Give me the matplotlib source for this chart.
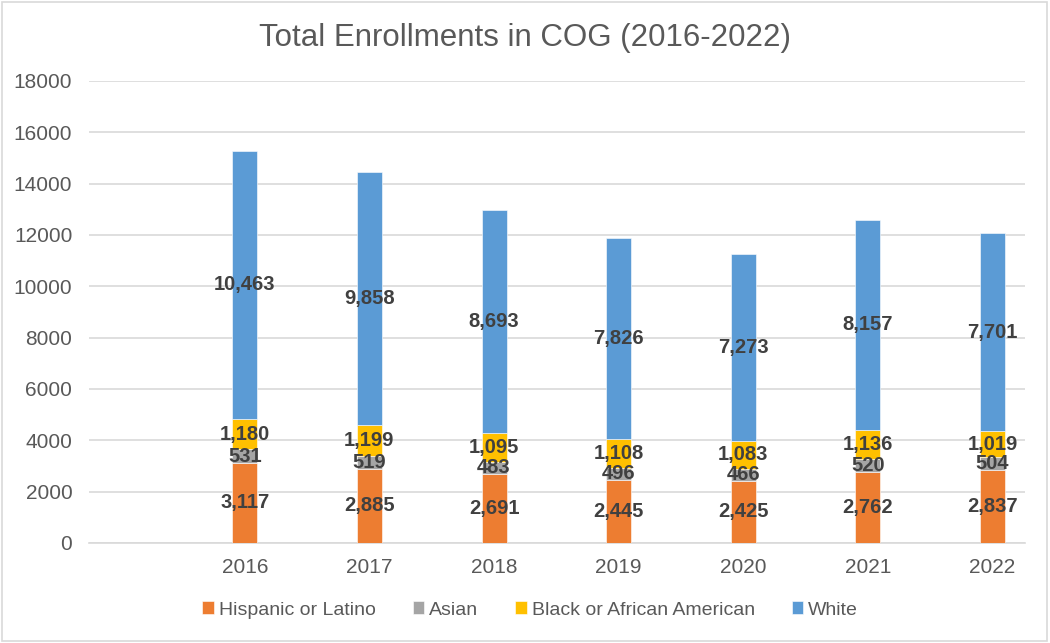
import matplotlib
matplotlib.use("Agg")
import matplotlib.pyplot as plt
from matplotlib.patches import Rectangle
import numpy as np

plt.rcParams["font.family"] = ["Liberation Sans", "DejaVu Sans"]

years = ["2016", "2017", "2018", "2019", "2020", "2021", "2022"]
hispanic = [3117, 2885, 2691, 2445, 2425, 2762, 2837]
asian = [531, 519, 483, 496, 466, 520, 504]
black = [1180, 1199, 1095, 1108, 1083, 1136, 1019]
white = [10463, 9858, 8693, 7826, 7273, 8157, 7701]

series = [
    ("Hispanic or Latino", hispanic, "#ED7D31"),
    ("Asian", asian, "#A5A5A5"),
    ("Black or African American", black, "#FFC000"),
    ("White", white, "#5B9BD5"),
]

fig = plt.figure(figsize=(10.5, 6.43), dpi=100)
ax = fig.add_axes([89 / 1050, 1 - 543 / 643, (1025 - 89) / 1050, (543 - 81) / 643])

x = np.arange(len(years))
bottom = np.zeros(len(years))
for name, vals, color in series:
    bars = ax.bar(x, vals, width=0.2, bottom=bottom, color=color, label=name,
                  edgecolor="white", linewidth=0.4, zorder=3)
    ax.bar_label(bars, labels=[f"{v:,}" for v in vals], label_type="center",
                 fontsize=14.5, fontweight="bold", color="#404040", zorder=4)
    bottom += np.array(vals)

ax.set_xlim(-1.25, 6.26)
ax.set_ylim(0, 18000)
ax.set_yticks(range(0, 18001, 2000))
ax.set_xticks(x)
ax.set_xticklabels(years)
ax.tick_params(axis="both", length=0, labelsize=15, colors="#595959")
ax.tick_params(axis="x", pad=11)
ax.tick_params(axis="y", pad=12)
ax.grid(axis="y", color="#D9D9D9", linewidth=1.2, zorder=0)
for side in ["top", "right", "left"]:
    ax.spines[side].set_visible(False)
ax.spines["bottom"].set_color("#D9D9D9")
ax.spines["bottom"].set_linewidth(1.2)

fig.text(0.5, 1 - 38 / 643, "Total Enrollments in COG (2016-2022)", ha="center", va="center",
         fontsize=22.5, color="#595959")

fig.legend(loc="center", bbox_to_anchor=(0.505, 1 - 610 / 643), ncol=4, frameon=False,
           fontsize=14, handlelength=0.6, handleheight=0.6, handletextpad=0.25,
           columnspacing=1.9, labelcolor="#595959")

fig.patches.append(Rectangle((0.002, 0.003), 0.995, 0.994, transform=fig.transFigure,
                             fill=False, edgecolor="#D9D9D9", linewidth=1.2))

fig.savefig("out.png", dpi=100)
